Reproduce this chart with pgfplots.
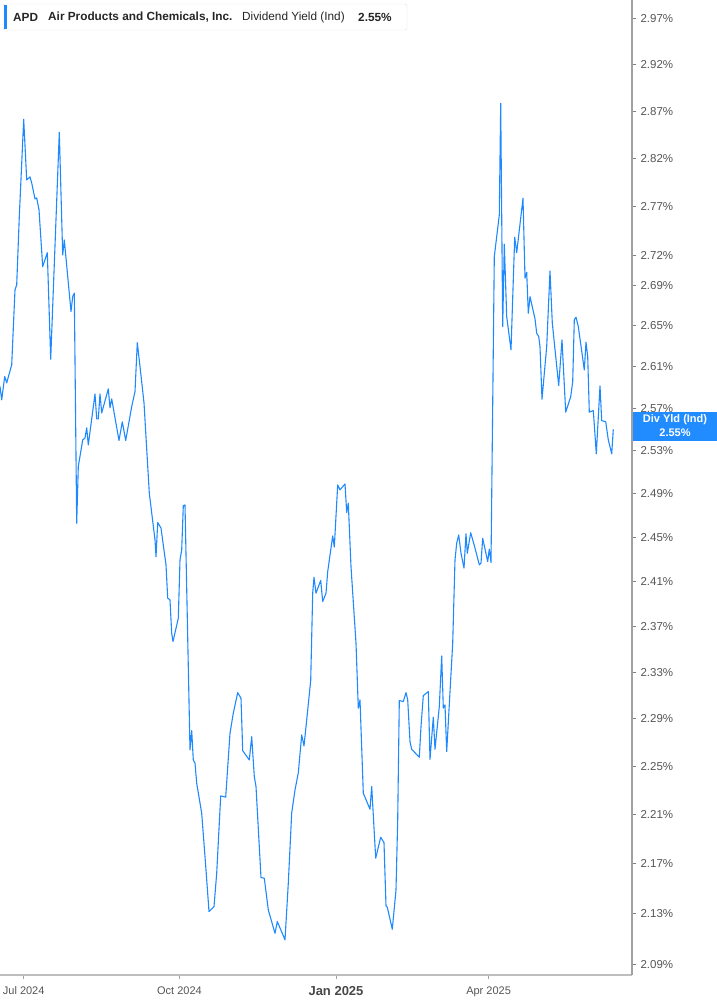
\documentclass[border=0pt]{standalone}
\usepackage{pgfplots}
\usepackage{pgfplotstable}
\pgfplotsset{compat=1.18}
\usepackage{fontspec}
\setmainfont{Liberation Sans}
\definecolor{lineblue}{RGB}{30,137,255}
\definecolor{boxblue}{RGB}{33,140,255}
\definecolor{ticktext}{RGB}{85,85,85}
\definecolor{axisgray}{RGB}{160,160,160}
\definecolor{botgray}{RGB}{190,190,190}
\pgfplotstableread{
x y
0 2.591
1.7 2.578
4.7 2.6005
6.7 2.5944
11.7 2.6118
15 2.6856
16.7 2.6906
19.3 2.7597
23.7 2.8614
26.7 2.7976
30 2.8007
31.7 2.7945
35 2.7779
36.7 2.7789
39 2.7666
42.7 2.7089
47.3 2.7230
50.7 2.6173
59.3 2.8476
62.7 2.7207
64.3 2.7359
71 2.6640
72.7 2.6789
74.3 2.6823
76.7 2.4626
78.3 2.5150
82.7 2.5400
85 2.5419
86.7 2.5514
88.3 2.5353
95 2.5838
96.7 2.5599
98.3 2.5599
100 2.5838
101.7 2.5656
108.3 2.5886
110 2.5704
111.7 2.5790
119 2.5394
122.3 2.5571
125.7 2.5394
131.7 2.5716
135 2.5860
137.3 2.6335
140 2.6101
144 2.5752
149.3 2.4902
155 2.4474
156 2.4320
157.7 2.4632
161 2.4581
166 2.4248
167.7 2.3950
170 2.3934
171.7 2.3640
173 2.3567
178.3 2.3772
180 2.4293
181.7 2.4383
183.3 2.4785
185 2.4794
190 2.2637
191.7 2.2800
193.3 2.2553
195 2.2526
196.7 2.2359
201.7 2.2111
206 2.1650
209 2.1318
214 2.1357
216.7 2.1624
220.7 2.2254
225.7 2.2243
230 2.2778
233.3 2.2948
237.7 2.3124
241 2.3076
242.7 2.2631
249.3 2.2553
251.7 2.2749
254.3 2.2414
256 2.2331
261 2.1589
264.3 2.1584
268.3 2.1331
275 2.1147
277.3 2.1239
285 2.1095
288.3 2.1544
291.7 2.2114
295 2.2303
298.3 2.2445
301.7 2.2764
304 2.2671
306.7 2.2891
310.7 2.3228
312.7 2.3994
314 2.4137
316 2.3994
320.7 2.4107
322.7 2.3919
326 2.3994
327.7 2.4187
332.7 2.4510
334.3 2.4408
337.7 2.4979
340 2.4933
345 2.4988
346.7 2.4723
348.3 2.4810
351 2.4232
356 2.3553
358.3 2.2991
360 2.3062
363.3 2.2276
370 2.2144
371.7 2.2331
375.7 2.1745
380.7 2.1915
384 2.1871
386 2.1363
387.3 2.1352
392.3 2.1179
396 2.1490
397.7 2.2056
399.3 2.3056
403.3 2.3048
406 2.3124
407.7 2.3062
410 2.2707
411.7 2.2643
419.3 2.2576
421 2.2834
423.3 2.3099
428.3 2.3133
430 2.2559
433.3 2.2914
435 2.2643
439.3 2.3004
441.7 2.3442
443.3 2.2991
445 2.3019
446.7 2.2623
452.7 2.3553
455 2.4293
456.7 2.4444
458.7 2.4519
461 2.4353
464 2.4218
466 2.4529
467.3 2.4353
470.7 2.4540
475 2.4399
479.3 2.4248
481 2.4263
482.7 2.4489
487.7 2.4277
489.3 2.4390
491 2.4269
494.3 2.7190
499.3 2.7614
500.7 2.8784
502.7 2.6492
504.3 2.7316
506.7 2.6591
511 2.6264
514.7 2.7387
516.7 2.7230
523 2.7786
525 2.6973
526.7 2.7033
528.3 2.6624
530 2.6789
535 2.6568
536.7 2.6427
538.7 2.6394
540 2.6296
542 2.5787
546.7 2.6296
550 2.7046
552.3 2.6526
558.7 2.5918
562 2.6362
565.7 2.5663
570.7 2.5812
572.7 2.5956
574.3 2.6558
576 2.6585
578.3 2.6492
584.3 2.6069
586 2.6339
587.7 2.6198
589.3 2.5663
593.3 2.5678
596.3 2.5269
600 2.5915
601.7 2.5583
605.7 2.5573
608.3 2.5400
611.7 2.5269
613.3 2.5500
}\datatable
\begin{document}
\begin{tikzpicture}
\useasboundingbox (0pt,-30pt) rectangle (717pt,975pt);
\begin{axis}[
  at={(0pt,0pt)}, anchor=south west,
  scale only axis, width=632pt, height=975pt,
  xmin=0, xmax=632,
  ymode=log, ymin=2.0822, ymax=2.9910,
  axis x line=bottom, axis y line=right,
  x axis line style={draw=botgray, line width=2pt, -},
  y axis line style={draw=axisgray, line width=1.3pt, -},
  tick align=outside,
  xtick={23.7,179.5,336,488.6},
  xticklabels={Jul 2024, Oct 2024, {\bfseries\fontsize{13}{13}\selectfont\color{ticktext!85!black}\raisebox{-2pt}{Jan 2025}}, Apr 2025},
  xtick style={draw=axisgray, line width=1pt},
  x tick label style={font=\fontsize{11}{11}\selectfont, text=ticktext, anchor=north, yshift=-4pt},
  ytick={2.09,2.13,2.17,2.21,2.25,2.29,2.33,2.37,2.41,2.45,2.49,2.53,2.57,2.61,2.65,2.69,2.72,2.77,2.82,2.87,2.92,2.97},
  yticklabels={2.09\%,2.13\%,2.17\%,2.21\%,2.25\%,2.29\%,2.33\%,2.37\%,2.41\%,2.45\%,2.49\%,2.53\%,2.57\%,2.61\%,2.65\%,2.69\%,2.72\%,2.77\%,2.82\%,2.87\%,2.92\%,2.97\%},
  minor ytick={},
  ytick style={draw=gray, line width=1pt},
  major tick length=4pt,
  y tick label style={font=\fontsize{11.5}{11.5}\selectfont, text=ticktext, anchor=west, xshift=1pt},
  clip=false,
]
\addplot[lineblue, line width=1.1pt, line join=round] table[x=x,y=y] {\datatable};
\end{axis}
% legend box
\draw[draw=black!12, fill=white, rounded corners=2pt] (3pt,945pt) rectangle (407pt,971pt);
\fill[lineblue] (3.5pt,946pt) rectangle (7pt,970pt);
\node[anchor=west, inner sep=0pt, font=\bfseries\fontsize{11.8}{11.8}\selectfont, text=black!85] at (13pt,958pt) {APD};
\node[anchor=west, inner sep=0pt, font=\bfseries\fontsize{11.8}{11.8}\selectfont, text=black!85] at (48pt,958pt) {Air Products and Chemicals, Inc.};
\node[anchor=west, inner sep=0pt, font=\fontsize{11.8}{11.8}\selectfont, text=black!85] at (242pt,958pt) {Dividend Yield (Ind)};
\node[anchor=west, inner sep=0pt, font=\bfseries\fontsize{11.8}{11.8}\selectfont, text=black!85] at (358pt,958pt) {2.55\%};
% right value box
\fill[boxblue] (633pt,534pt) rectangle (717pt,563pt);
\node[inner sep=0pt, font=\bfseries\fontsize{11}{11}\selectfont, text=white] at (675pt,555pt) {Div Yld (Ind)};
\node[inner sep=0pt, font=\bfseries\fontsize{11}{11}\selectfont, text=white] at (675pt,542pt) {2.55\%};
\end{tikzpicture}
\end{document}
